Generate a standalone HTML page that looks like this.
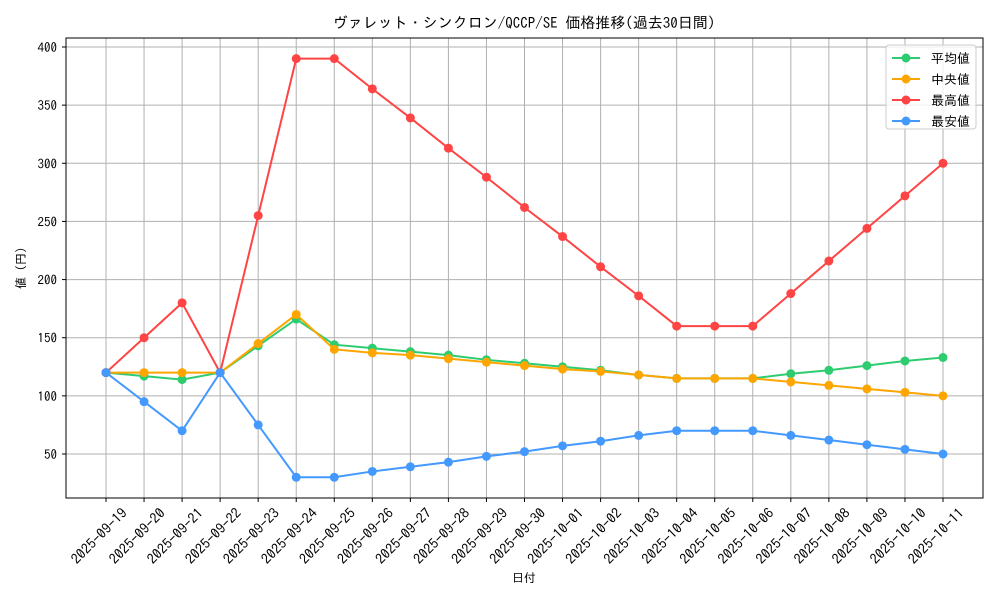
<!DOCTYPE html>
<html><head><meta charset="utf-8"><style>
html,body{margin:0;padding:0;background:#fff}
svg{font-family:"IPAGothic","Liberation Mono","Noto Sans CJK JP",monospace}
</style></head><body>
<svg id="chart" width="1000" height="600" xmlns="http://www.w3.org/2000/svg">
<rect width="1000" height="600" fill="#fff"/>
<text x="524" y="28" font-size="15" text-anchor="middle">ヴァレット・シンクロン/QCCP/SE 価格推移(過去30日間)</text>
<g id="grid"></g><g id="axes"></g><g id="series"></g>
<rect x="66" y="38" width="917" height="460" fill="none" stroke="#000" stroke-width="1"/>
<text x="524" y="582" font-size="12" text-anchor="middle">日付</text>
<text transform="translate(25,268) rotate(-90)" font-size="12" text-anchor="middle">値 (円)</text>
<g id="legend"></g>
</svg>
<script>
const dates=["2025-09-19","2025-09-20","2025-09-21","2025-09-22","2025-09-23","2025-09-24","2025-09-25","2025-09-26","2025-09-27","2025-09-28","2025-09-29","2025-09-30","2025-10-01","2025-10-02","2025-10-03","2025-10-04","2025-10-05","2025-10-06","2025-10-07","2025-10-08","2025-10-09","2025-10-10","2025-10-11"];
const avgVals=[120,117,114,120,143,166,144,141,138,135,131,128,125,122,118,115,115,115,119,122,126,130,133];
const medVals=[120,120,120,120,145,170,140,137,135,132,129,126,123,121,118,115,115,115,112,109,106,103,100];
const maxVals=[120,150,180,120,255,390,390,364,339,313,288,262,237,211,186,160,160,160,188,216,244,272,300];
const minVals=[120,95,70,120,75,30,30,35,39,43,48,52,57,61,66,70,70,70,66,62,58,54,50];
const yTicks=[50,100,150,200,250,300,350,400];
const seriesNames=["平均値","中央値","最高値","最安値"];
const NS="http://www.w3.org/2000/svg";
const X=i=>106+i*(943-106)/(dates.length-1);
const Y=v=>454-(v-50)*(454-47)/350;
function mk(tag,attrs,parent){const e=document.createElementNS(NS,tag);for(const k in attrs)e.setAttribute(k,attrs[k]);parent.appendChild(e);return e;}
const grid=document.getElementById('grid'),axes=document.getElementById('axes'),ser=document.getElementById('series'),leg=document.getElementById('legend');
yTicks.forEach(t=>{const y=Y(t);
 const l=mk('line',{x1:66,x2:983,y1:y,y2:y,stroke:'#b0b0b0','stroke-width':1},grid);
 
 
 mk('line',{x1:62,x2:66,y1:y,y2:y,stroke:'#000'},axes);
 const tx=mk('text',{x:57,y:y+5,'font-size':13,'text-anchor':'end'},axes);tx.textContent=t;
 
 
});
dates.forEach((d,i)=>{const x=X(i);
 const l=mk('line',{x1:x,x2:x,y1:38,y2:498,stroke:'#b0b0b0','stroke-width':1},grid);
 
 
 mk('line',{x1:x,x2:x,y1:498,y2:502,stroke:'#000'},axes);
 const ax=x+22, ay=514;
 const tx=mk('text',{x:ax,y:ay,'font-size':14,'text-anchor':'end',textLength:72,lengthAdjust:'spacingAndGlyphs',transform:`rotate(-45 ${ax} ${ay})`},axes);tx.textContent=d;
 
 
});
const all=[[avgVals,'#2ecc71','avg'],[medVals,'#ffa500','median'],[maxVals,'#ff4444','max'],[minVals,'#4499ff','min']];
all.forEach(([vals,c,n])=>{
 const p=mk('polyline',{points:vals.map((v,i)=>X(i)+','+Y(v)).join(' '),fill:'none',stroke:c,'stroke-width':2},ser);
 
 
 vals.forEach((v,i)=>{const m=mk('circle',{cx:X(i),cy:Y(v),r:4.5,fill:c},ser);
  
  });
});
const box=mk('rect',{x:886,y:45,width:90,height:84,fill:'#fff','fill-opacity':0.8,stroke:'#ccc',rx:3},leg);


all.forEach(([v,c,n],i)=>{const y=58+i*21;
 mk('line',{x1:892,x2:920,y1:y,y2:y,stroke:c,'stroke-width':2},leg);
 mk('circle',{cx:906,cy:y,r:4.5,fill:c},leg);
 const t=mk('text',{x:931,y:y+5,'font-size':13},leg);t.textContent=seriesNames[i];
 
 
});
</script>
</body></html>
